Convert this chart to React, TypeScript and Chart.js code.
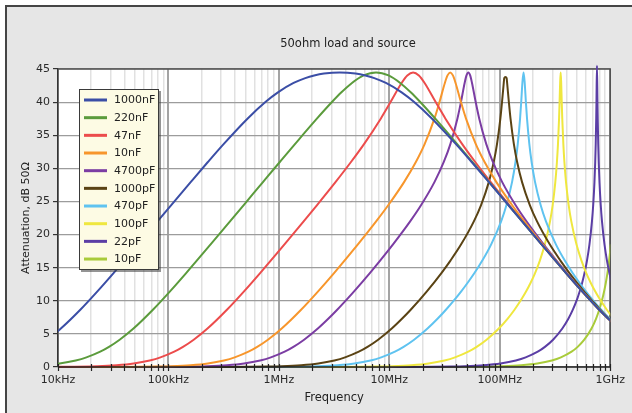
import { useEffect, useRef } from 'react';
import { Chart, registerables } from 'chart.js';

Chart.register(...registerables);

const chartTitle = '50ohm load and source';
const xAxisTitle = 'Frequency';
const yAxisTitle = 'Attenuation, dB 50Ω';

const seriesLabels = ['1000nF', '220nF', '47nF', '10nF', '4700pF', '1000pF', '470pF', '100pF', '22pF', '10pF'];
const seriesColors = ['#3b4ea6', '#5b9b3c', '#ec4c4c', '#f7962c', '#7b3da3', '#5a4314', '#5fc3f0', '#efe73f', '#5b3ea5', '#a9cb3a'];

// [frequency in MHz, attenuation in dB]
const c1000nF = [[0.007958, 4.12], [0.01061, 5.81], [0.01592, 8.65], [0.02274, 11.43], [0.03183, 14.19], [0.05304, 18.52], [0.07955, 21.99], [0.106, 24.46], [0.1589, 27.92], [0.2265, 30.92], [0.3158, 33.66], [0.5193, 37.5], [0.7595, 40.05], [0.9805, 41.48], [1.3594, 42.89], [1.7336, 43.63], [2.0874, 44.03], [2.5604, 44.32], [3.559, 44.49], [4.947, 44.32], [6.068, 44.03], [7.307, 43.63], [9.318, 42.89], [12.92, 41.48], [16.68, 40.05], [24.39, 37.5], [40.11, 33.66], [55.91, 30.92], [79.74, 27.92], [119.5, 24.46], [159.2, 21.99], [238.8, 18.52], [397.9, 14.19], [557.0, 11.43], [795.8, 8.65], [1193.7, 5.81]];
const c220nF = [[0.007234, 0.27], [0.010335, 0.53], [0.014468, 0.98], [0.018086, 1.45], [0.02412, 2.31], [0.02894, 3.04], [0.03616, 4.12], [0.04823, 5.81], [0.07233, 8.65], [0.10334, 11.43], [0.1446, 14.19], [0.2409, 18.52], [0.3609, 21.99], [0.4805, 24.46], [0.7169, 27.92], [1.015, 30.92], [1.3977, 33.66], [2.2074, 37.5], [3.0372, 40.05], [3.6848, 41.48], [4.5885, 42.89], [5.854, 44.03], [7.587, 44.49], [9.833, 44.03], [12.545, 42.89], [15.62, 41.48], [18.95, 40.05], [26.08, 37.5], [41.18, 33.66], [56.71, 30.92], [80.29, 27.92], [119.8, 24.46], [159.5, 21.99], [238.9, 18.52], [398.0, 14.19], [557.0, 11.43], [795.8, 8.65], [1193.5, 5.81]];
const c47nF = [[0.005, 0.01], [0.01129, 0.03], [0.02258, 0.12], [0.03387, 0.27], [0.04838, 0.53], [0.06772, 0.98], [0.08466, 1.45], [0.1129, 2.31], [0.1354, 3.04], [0.1693, 4.12], [0.2257, 5.81], [0.3385, 8.65], [0.4834, 11.43], [0.6761, 14.19], [1.1236, 18.52], [1.6756, 21.99], [2.2166, 24.46], [3.2533, 27.92], [4.478, 30.92], [5.899, 33.66], [8.361, 37.5], [10.286, 40.05], [12.913, 42.89], [14.547, 44.03], [16.416, 44.49], [18.525, 44.03], [20.869, 42.89], [26.2, 40.05], [32.23, 37.5], [45.69, 33.66], [60.18, 30.92], [82.83, 27.92], [121.6, 24.46], [160.8, 21.99], [239.8, 18.52], [398.6, 14.19], [557.5, 11.43], [796.0, 8.65], [1193.8, 5.81]];
const c10nF = [[0.005, 0], [0.03183, 0.01], [0.05306, 0.03], [0.07958, 0.07], [0.1061, 0.12], [0.1592, 0.27], [0.2274, 0.53], [0.3183, 0.98], [0.3979, 1.45], [0.5304, 2.31], [0.6364, 3.04], [0.7955, 4.12], [1.0602, 5.81], [1.5885, 8.65], [2.2655, 11.43], [3.158, 14.19], [5.193, 18.52], [7.595, 21.99], [9.804, 24.46], [13.594, 27.92], [17.336, 30.92], [20.874, 33.66], [25.6, 37.5], [28.51, 40.05], [31.83, 42.89], [33.65, 44.03], [35.59, 44.49], [37.64, 44.03], [39.79, 42.89], [44.43, 40.05], [49.47, 37.5], [60.68, 33.66], [73.07, 30.92], [93.17, 27.92], [129.2, 24.46], [166.8, 21.99], [243.9, 18.52], [401.1, 14.19], [559.1, 11.43], [797.4, 8.65], [1194.8, 5.81]];
const c4700pF = [[0.005, 0], [0.06772, 0.01], [0.1129, 0.03], [0.1693, 0.07], [0.2257, 0.12], [0.3386, 0.27], [0.4837, 0.53], [0.6771, 0.98], [0.8463, 1.45], [1.1282, 2.31], [1.3532, 3.04], [1.6914, 4.12], [2.2531, 5.81], [2.8136, 7.32], [3.3719, 8.65], [4.205, 10.37], [4.796, 11.43], [6.661, 14.19], [8.252, 16.07], [10.799, 18.52], [15.434, 21.99], [19.416, 24.46], [25.616, 27.92], [31.058, 30.92], [35.697, 33.66], [41.33, 37.5], [44.56, 40.05], [48.08, 42.89], [49.96, 44.03], [51.91, 44.49], [53.94, 44.03], [56.04, 42.89], [60.48, 40.05], [65.2, 37.5], [75.49, 33.66], [86.76, 30.92], [105.2, 27.92], [138.78, 24.46], [174.59, 21.99], [249.5, 18.52], [326.6, 16.07], [404.6, 14.19], [561.9, 11.43], [640.8, 10.37], [799.2, 8.65], [957.7, 7.32], [1196, 5.81]];
const c1000pF = [[0.005, 0], [0.3183, 0.01], [0.5305, 0.03], [0.7957, 0.07], [1.0609, 0.12], [1.5912, 0.27], [2.2726, 0.53], [3.1806, 0.98], [3.974, 1.45], [5.2935, 2.31], [6.346, 3.04], [7.918, 4.12], [10.518, 5.81], [13.084, 7.32], [15.609, 8.65], [21.877, 11.43], [29.625, 14.19], [35.77, 16.07], [44.687, 18.52], [58.25, 21.99], [67.7, 24.46], [79.58, 27.92], [88.08, 30.92], [94.39, 33.66], [101.23, 37.5], [104.86, 40.05], [108.63, 42.89], [109.79, 43.63], [112.54, 43.8], [115.36, 43.63], [116.59, 42.89], [120.78, 40.05], [125.11, 37.5], [134.18, 33.66], [143.79, 30.92], [159.15, 27.92], [187.08, 24.46], [217.42, 21.99], [283.42, 18.52], [354.08, 16.07], [427.52, 14.19], [578.9, 11.43], [811.4, 8.65], [967.9, 7.32], [1204.2, 5.81]];
const c470pF = [[0.005, 0], [0.6772, 0.01], [1.129, 0.03], [1.6931, 0.07], [2.2574, 0.12], [3.3854, 0.27], [4.834, 0.53], [6.761, 0.98], [8.444, 1.45], [11.236, 2.31], [13.455, 3.04], [16.756, 4.12], [22.166, 5.81], [27.44, 7.32], [32.533, 8.65], [39.84, 10.37], [44.78, 11.43], [51.0, 12.69], [58.99, 14.19], [69.49, 16.07], [83.61, 18.52], [102.86, 21.99], [114.99, 24.46], [129.13, 27.92], [138.66, 30.92], [145.47, 33.66], [152.66, 37.5], [156.4, 40.05], [160.23, 42.89], [164.16, 44.49], [168.19, 42.89], [172.3, 40.05], [176.52, 37.5], [185.25, 33.66], [194.36, 30.92], [208.7, 27.92], [234.36, 24.46], [262.0, 21.99], [322.3, 18.52], [387.8, 16.07], [456.9, 14.19], [528.4, 12.69], [601.8, 11.43], [676.4, 10.37], [828.3, 8.65], [982.2, 7.32], [1215.8, 5.81]];
const c100pF = [[0.005, 0], [3.183, 0.01], [5.304, 0.03], [7.955, 0.07], [10.6, 0.12], [15.885, 0.27], [22.65, 0.53], [31.58, 0.98], [39.3, 1.45], [51.93, 2.31], [61.75, 3.04], [75.95, 4.12], [98.04, 5.81], [118.04, 7.32], [135.94, 8.65], [159.17, 10.37], [173.36, 11.43], [189.8, 12.69], [208.74, 14.19], [230.7, 16.07], [256.0, 18.52], [285.1, 21.99], [301.2, 24.46], [318.3, 27.92], [329.1, 30.92], [336.5, 33.66], [344.2, 37.5], [348.0, 40.05], [352.0, 42.89], [355.9, 44.49], [359.9, 42.89], [363.9, 40.05], [368.0, 37.5], [376.4, 33.66], [384.8, 30.92], [397.9, 27.92], [420.6, 24.46], [444.3, 21.99], [494.7, 18.52], [549.1, 16.07], [606.8, 14.19], [667.3, 12.69], [730.7, 11.43], [795.8, 10.37], [931.7, 8.65], [1073.0, 7.32]];
const c22pF = [[0.005, 0], [14.463, 0.01], [24.09, 0.03], [36.09, 0.07], [48.05, 0.12], [71.69, 0.27], [101.5, 0.53], [139.77, 0.98], [171.6, 1.45], [220.7, 2.31], [256.3, 3.04], [303.7, 4.12], [368.5, 5.81], [419.0, 7.32], [458.8, 8.65], [504.5, 10.37], [529.7, 11.43], [556.6, 12.69], [585.4, 14.19], [616.1, 16.07], [648.7, 18.52], [683.3, 21.99], [701.4, 24.46], [720.0, 27.92], [731.4, 30.92], [739.1, 33.66], [746.8, 37.5], [750.7, 40.05], [758.7, 45.5], [766.7, 40.05], [770.8, 37.5], [778.9, 33.66], [787.1, 30.92], [799.5, 27.92], [820.7, 24.46], [842.5, 21.99], [887.4, 18.52], [934.3, 16.07], [983.3, 14.19], [1034.1, 12.69]];
const c10pF = [[0.005, 0], [31.81, 0.01], [52.94, 0.03], [79.18, 0.07], [105.18, 0.12], [156.09, 0.27], [218.77, 0.53], [296.25, 0.98], [357.7, 1.45], [446.87, 2.31], [507.3, 3.04], [582.5, 4.12], [677.0, 5.81], [745.0, 7.32], [795.8, 8.65], [851.2, 10.37], [880.8, 11.43], [911.7, 12.69], [943.9, 14.19], [977.5, 16.07], [1012.3, 18.52], [1048.6, 21.99]];

const seriesPoints = [c1000nF, c220nF, c47nF, c10nF, c4700pF, c1000pF, c470pF, c100pF, c22pF, c10pF];

const decadeValues = [1e4, 1e5, 1e6, 1e7, 1e8, 1e9];
const decadeLabels = ['10kHz', '100kHz', '1MHz', '10MHz', '100MHz', '1GHz'];
const minorSteps = [1, 2, 3, 4, 5, 6, 7, 8, 9];

const FONT = '"DejaVu Sans", "Liberation Sans", sans-serif';

function isDecade(v: number) {
  const l = Math.log10(v);
  return Math.abs(l - Math.round(l)) < 1e-6;
}

function allTickValues() {
  const out: number[] = [];
  for (let d = 0; d < decadeValues.length - 1; d++) {
    for (const m of minorSteps) out.push(decadeValues[d] * m);
  }
  out.push(decadeValues[decadeValues.length - 1]);
  return out;
}

const framePlugin = {
  id: 'frameDecor',
  beforeDraw(chart: any) {
    const { ctx, width, height, chartArea: a } = chart;
    ctx.save();
    ctx.fillStyle = '#ffffff';
    ctx.fillRect(0, 0, width, height);
    ctx.fillStyle = '#e6e6e6';
    ctx.fillRect(5, 5, width - 5, height - 5);
    ctx.fillStyle = '#454545';
    ctx.fillRect(5, 5, width - 5, 2);
    ctx.fillRect(5, 5, 2, height - 5);
    ctx.fillStyle = '#ffffff';
    ctx.fillRect(a.left, a.top, a.right - a.left, a.bottom - a.top);

    ctx.fillStyle = '#222222';
    ctx.font = '11.5px ' + FONT;
    ctx.textAlign = 'center';
    ctx.textBaseline = 'middle';
    ctx.fillText(chartTitle, 348, 44);
    ctx.fillText(xAxisTitle, (a.left + a.right) / 2, 398);
    ctx.translate(26, (a.top + a.bottom) / 2);
    ctx.rotate(-Math.PI / 2);
    ctx.font = '11px ' + FONT;
    ctx.fillText(yAxisTitle, 0, 0);
    ctx.restore();
  },
  beforeDatasetsDraw(chart: any) {
    const { ctx, chartArea: a } = chart;
    ctx.save();
    ctx.strokeStyle = '#505050';
    ctx.lineWidth = 1.5;
    ctx.beginPath();
    ctx.moveTo(a.left, a.top);
    ctx.lineTo(a.right, a.top);
    ctx.lineTo(a.right, a.bottom);
    ctx.stroke();
    ctx.restore();
  },
  afterDatasetsDraw(chart: any) {
    const { ctx, chartArea: a } = chart;
    const xs = chart.scales.x;
    ctx.save();
    ctx.strokeStyle = '#222222';
    ctx.lineWidth = 1.5;
    ctx.beginPath();
    ctx.moveTo(a.left, a.bottom);
    ctx.lineTo(a.right, a.bottom);
    ctx.stroke();
    ctx.lineWidth = 1.2;
    for (const v of allTickValues()) {
      const x = Math.round(xs.getPixelForValue(v)) + 0.5;
      ctx.beginPath();
      ctx.moveTo(x, a.bottom - 3);
      ctx.lineTo(x, a.bottom + 4);
      ctx.stroke();
    }

    // legend box
    const lx = 79, ly = 89, lw = 80, lh = 181;
    ctx.fillStyle = 'rgba(60,60,60,0.55)';
    ctx.fillRect(lx + 2, ly + 2, lw, lh);
    ctx.fillStyle = '#fdfbe4';
    ctx.fillRect(lx, ly, lw, lh);
    ctx.strokeStyle = '#3a3a3a';
    ctx.lineWidth = 1;
    ctx.strokeRect(lx + 0.5, ly + 0.5, lw - 1, lh - 1);
    ctx.font = '11px ' + FONT;
    ctx.textAlign = 'left';
    ctx.textBaseline = 'middle';
    chart.data.datasets.forEach((ds: any, i: number) => {
      const y = 100 + i * 17.67;
      ctx.strokeStyle = ds.borderColor;
      ctx.lineWidth = 3;
      ctx.beginPath();
      ctx.moveTo(lx + 5, y);
      ctx.lineTo(lx + 28, y);
      ctx.stroke();
      ctx.fillStyle = '#222222';
      ctx.fillText(ds.label, lx + 35, y + 0.5);
    });
    ctx.restore();
  },
};

export default function App() {
  const ref = useRef<HTMLCanvasElement | null>(null);

  useEffect(() => {
    document.body.style.margin = '0';
    const canvas = ref.current;
    if (!canvas) return;
    const datasets = seriesLabels.map((label, i) => ({
      label,
      data: seriesPoints[i].map(([f, db]) => ({ x: f * 1e6, y: db })),
      borderColor: seriesColors[i],
      backgroundColor: seriesColors[i],
      borderWidth: 2,
      pointRadius: 0,
      fill: false,
      cubicInterpolationMode: 'monotone' as const,
      clip: { left: 0, right: 0, top: 5, bottom: 1 },
    }));

    const chart = new Chart(canvas, {
      type: 'line',
      data: { datasets },
      plugins: [framePlugin],
      options: {
        animation: false,
        responsive: false,
        maintainAspectRatio: false,
        parsing: false,
        layout: { padding: { top: 69, right: 20, left: 0, bottom: 0 } },
        plugins: {
          legend: { display: false },
          title: { display: false },
          tooltip: { enabled: false },
        },
        scales: {
          x: {
            type: 'logarithmic',
            min: 1e4,
            max: 1e9,
            afterBuildTicks: (scale: any) => {
              scale.ticks = allTickValues().map((v) => ({ value: v }));
            },
            afterFit: (scale: any) => {
              scale.height = 46;
            },
            ticks: {
              autoSkip: false,
              maxRotation: 0,
              minRotation: 0,
              padding: 7,
              color: '#2a2a2a',
              font: { family: FONT, size: 11 },
              callback: (value: any) => {
                const v = Number(value);
                if (!isDecade(v)) return '';
                const idx = Math.round(Math.log10(v)) - 4;
                return decadeLabels[idx] ?? '';
              },
            },
            grid: {
              drawTicks: false,
              color: (c: any) => (c.tick && isDecade(c.tick.value) ? '#a3a3a3' : '#e1e1e1'),
              lineWidth: (c: any) => (c.tick && isDecade(c.tick.value) ? 2 : 1.5),
            },
            border: { display: false },
          },
          y: {
            type: 'linear',
            min: 0,
            max: 45,
            afterFit: (scale: any) => {
              scale.width = 58;
            },
            ticks: {
              stepSize: 5,
              padding: 3,
              color: '#2a2a2a',
              font: { family: FONT, size: 11 },
            },
            grid: {
              color: '#9c9c9c',
              lineWidth: 1.2,
              tickLength: 5,
              tickColor: '#333333',
              tickWidth: 1.2,
            },
            border: { display: true, color: '#333333', width: 1.5 },
          },
        },
      },
    });
    return () => chart.destroy();
  }, []);

  return (
    <div style={{ width: 632, height: 413 }}>
      <canvas ref={ref} width={632} height={413} style={{ width: 632, height: 413, display: 'block' }} />
    </div>
  );
}
